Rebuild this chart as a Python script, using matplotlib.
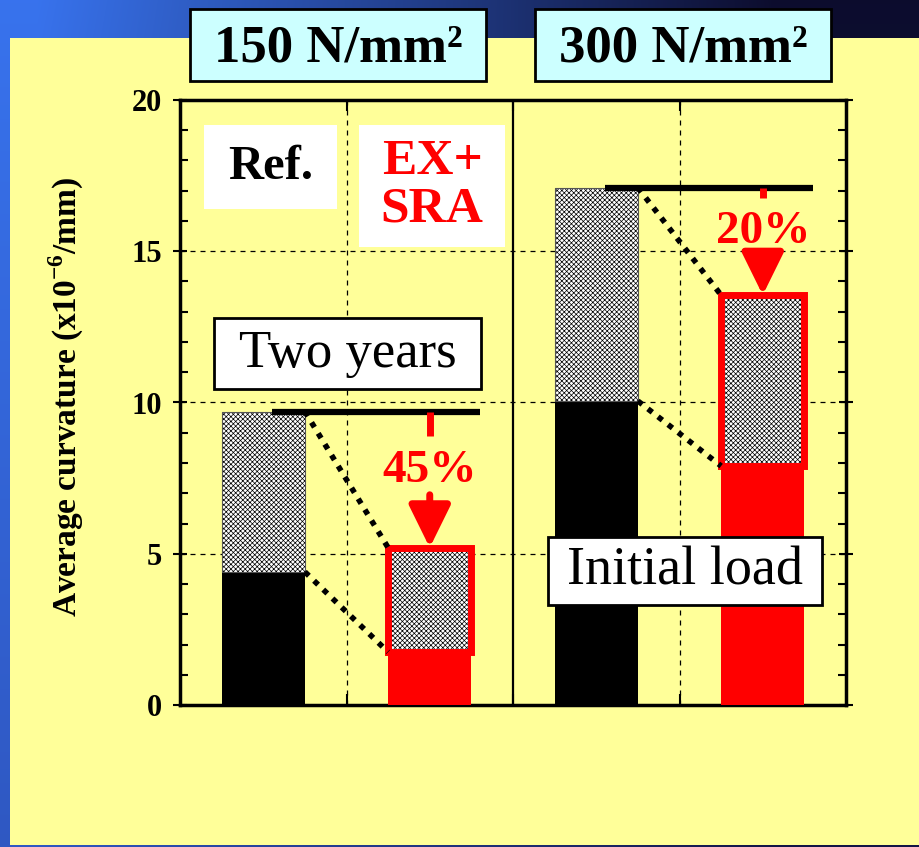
import numpy as np
import matplotlib.pyplot as plt
from matplotlib.patches import Rectangle

plt.rcParams['font.family'] = ['Liberation Serif', 'DejaVu Serif']
plt.rcParams['mathtext.fontset'] = 'custom'
plt.rcParams['mathtext.rm'] = 'Liberation Serif'
plt.rcParams['mathtext.bf'] = 'Liberation Serif:bold'
plt.rcParams['hatch.linewidth'] = 0.5

# --- Datos ---
cargas = ['150 N/mm²', '300 N/mm²']
series = ['Ref.', 'EX+\nSRA']
posiciones = [0.5, 1.5, 2.5, 3.5]          # Ref 150, EX 150, Ref 300, EX 300
carga_inicial = [4.4, 1.75, 10.05, 7.9]    # x10^-6/mm
dos_anios = [9.7, 5.2, 17.1, 13.55]
reduccion = ['45%', '20%']

W, H = 919, 847
ROJO = '#ff0000'
AMARILLO = '#ffff99'

fig = plt.figure(figsize=(W / 100, H / 100), dpi=100)

# --- Fondo azul degradado ---
yy, xx = np.mgrid[0:H, 0:W]
t = np.clip(xx / W * 1.25 - 0.05, 0, 1)[..., None]
claro = np.array([0.22, 0.45, 0.93])
oscuro = np.array([0.05, 0.05, 0.18])
fondo = claro * (1 - t) + oscuro * t
v = (yy / H)[..., None]
fondo = fondo * (1 - 0.35 * v) + np.array([0.12, 0.15, 0.45]) * 0.35 * v
fig.figimage(np.clip(fondo, 0, 1), 0, 0, zorder=0)

fig.add_artist(Rectangle((10 / W, 2 / H), 1, (845 - 38) / H, transform=fig.transFigure,
                         facecolor=AMARILLO, edgecolor='none', zorder=1))


def caja(x0, y0, x1, y1, texto, cara, borde=None, dy=0, **kw):
    # coordenadas en pixeles de la imagen, origen arriba a la izquierda
    fig.add_artist(Rectangle((x0 / W, 1 - y1 / H), (x1 - x0) / W, (y1 - y0) / H,
                             transform=fig.transFigure, facecolor=cara,
                             edgecolor=borde if borde else 'none',
                             linewidth=2 if borde else 0, zorder=5))
    fig.text((x0 + x1) / 2 / W, 1 - ((y0 + y1) / 2 + dy) / H, texto,
             ha='center', va='center', zorder=6, **kw)


# --- Ejes ---
ax = fig.add_axes([180 / W, 142 / H, 666 / W, 605 / H])
ax.set_zorder(2)
ax.set_facecolor(AMARILLO)
ax.set_xlim(0, 4)
ax.set_ylim(0, 20)

for yv in [5, 10, 15]:
    ax.axhline(yv, color='black', lw=0.9, ls=(0, (4, 4)), zorder=1)
for xv in [1, 3]:
    ax.axvline(xv, color='black', lw=0.9, ls=(0, (4, 4)), zorder=1)
ax.axvline(2, color='black', lw=1.6, zorder=1)

ancho = 0.5
for i, x in enumerate(posiciones):
    es_ref = i % 2 == 0
    ax.bar(x, carga_inicial[i], ancho, color='black' if es_ref else ROJO, zorder=3)
    ax.bar(x, dos_anios[i] - carga_inicial[i], ancho, bottom=carga_inicial[i],
           facecolor='white', edgecolor='black', hatch='xxxxxxx', linewidth=0, zorder=3)
    if not es_ref:
        ax.bar(x, dos_anios[i] - carga_inicial[i], ancho, bottom=carga_inicial[i],
               fill=False, edgecolor=ROJO, linewidth=5, zorder=4)
    else:
        ax.bar(x, dos_anios[i] - carga_inicial[i], ancho, bottom=carga_inicial[i],
               fill=False, edgecolor='#555555', linewidth=0.8, zorder=4)

for k in range(2):
    i_ref, i_ex = 2 * k, 2 * k + 1
    x0 = posiciones[i_ref] + ancho / 2
    x1 = posiciones[i_ex] - ancho / 2
    # lineas punteadas entre barras
    ax.plot([x0, x1], [dos_anios[i_ref], dos_anios[i_ex]], color='black', lw=4,
            ls=(0, (1, 1.3)), zorder=5)
    ax.plot([x0, x1], [carga_inicial[i_ref], carga_inicial[i_ex]], color='black', lw=4,
            ls=(0, (1, 1.3)), zorder=5)
    # nivel de referencia
    ax.plot([posiciones[i_ref] + 0.05, posiciones[i_ex] + 0.3], [dos_anios[i_ref]] * 2,
            color='black', lw=4.5, zorder=5, solid_capstyle='butt')
    # flecha de reduccion
    medio = (dos_anios[i_ref] + dos_anios[i_ex]) / 2
    xr = posiciones[i_ex]
    ax.plot([xr, xr], [dos_anios[i_ref], medio + 1.45], color=ROJO, lw=5, zorder=5,
            solid_capstyle='butt')
    ax.text(xr, medio + 0.3, reduccion[k], color=ROJO, fontsize=34, fontweight='bold',
            ha='center', va='center', zorder=6)
    ax.annotate('', xy=(xr, dos_anios[i_ex]), xytext=(xr, medio - 0.5),
                arrowprops=dict(arrowstyle='-|>,head_length=0.65,head_width=0.32',
                                lw=5, color=ROJO, shrinkA=0, shrinkB=0, mutation_scale=40),
                zorder=6)

ax.set_yticks([0, 5, 10, 15, 20])
ax.set_yticks(range(21), minor=True)
ax.set_yticklabels(['0', '5', '10', '15', '20'], fontsize=22, fontweight='bold')
ax.tick_params(axis='y', which='major', direction='inout', length=10, width=1.5,
               left=True, right=True, pad=8)
ax.tick_params(axis='y', which='minor', direction='in', length=6, width=1.5,
               left=True, right=True)
ax.set_xticks([1, 2, 3])
ax.set_xticklabels([])
ax.tick_params(axis='x', direction='in', length=8, width=1.5, top=True, bottom=True)
for s in ax.spines.values():
    s.set_linewidth(2.5)

ax.set_ylabel('Average curvature (x10$^{\\mathbf{-6}}$/mm)', fontsize=24, fontweight='bold')
ax.yaxis.set_label_coords(-0.141, 0.51)

# --- Cajas de texto ---
caja(190, 9, 486, 81, cargas[0], '#ccffff', 'black', dy=3, fontsize=38, fontweight='bold')
caja(535, 9, 831, 81, cargas[1], '#ccffff', 'black', dy=3, fontsize=38, fontweight='bold')
caja(204, 125, 337, 209, series[0], 'white', fontsize=35, fontweight='bold', color='black')
caja(359, 125, 505, 247, series[1], 'white', fontsize=37, fontweight='bold', color=ROJO,
     linespacing=1.05)
caja(214, 318, 481, 389, 'Two years', 'white', 'black', fontsize=38)
caja(548, 537, 822, 605, 'Initial load', 'white', 'black', fontsize=39)

fig.savefig('out.png', dpi=100)
